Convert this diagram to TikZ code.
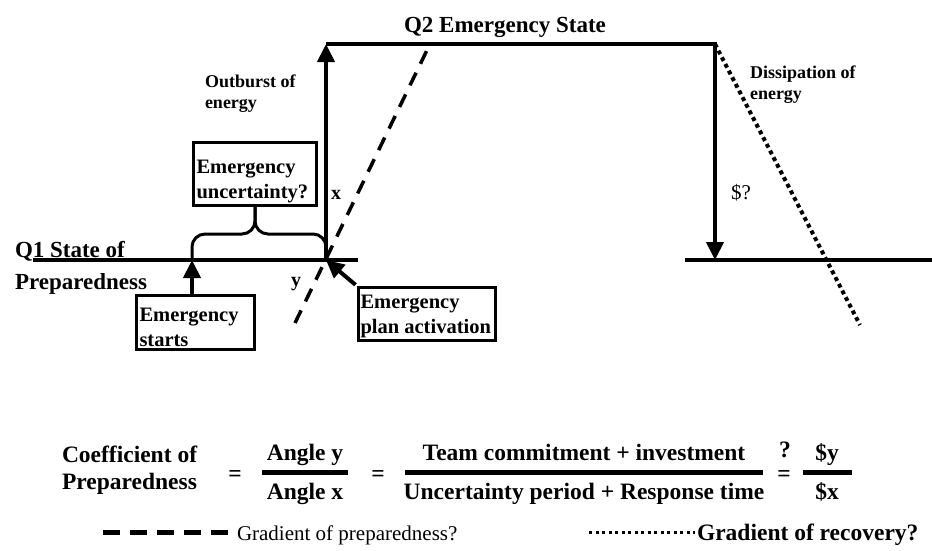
\documentclass[tikz,border=0pt]{standalone}
\usepackage{fontspec}
\setmainfont{Liberation Serif}
\usepackage{tikz}
\usetikzlibrary{arrows.meta,positioning}

\begin{document}
\begin{tikzpicture}[x=1pt, y=-1pt, line width=4pt, >={Triangle[length=18pt,width=17pt]},
                    boxx/.style={rectangle, draw=black, line width=3pt, align=flush left, inner sep=3pt, font=\fontsize{20.5}{25}\selectfont\bfseries},
                    notee/.style={align=left, inner sep=0pt, font=\fontsize{18}{21}\selectfont\bfseries},
                    headd/.style={align=left, inner sep=0pt, font=\fontsize{23}{32}\selectfont\bfseries},
                    eqq/.style={inner sep=0pt, font=\fontsize{23.5}{27}\selectfont\bfseries},
                    barr/.style={line width=5pt},
                    dashh/.style={line width=3.5pt, dash pattern=on 14pt off 10pt},
                    dott/.style={line width=4pt, dash pattern=on 4pt off 3.5pt}]
        \useasboundingbox (0,0) rectangle (932,550);

        % levels
        \coordinate (q1left) at (33,260);
        \coordinate (q1start) at (192,260);
        \coordinate (cross) at (326,260);
        \coordinate (q1end) at (358,260);
        \coordinate (q2left) at (326,44);
        \coordinate (q2right) at (715,44);
        \coordinate (q3foot) at (715,260);
        \coordinate (q3left) at (685,260);
        \coordinate (q3right) at (932,260);
        \coordinate (preplow) at (295,323);
        \coordinate (prephigh) at (430,44);
        \coordinate (reclow) at (860,325);
        \coordinate (bracemid) at (255,234);

        \node (uncbox) [boxx, text width=117pt] at (255,174) {\rule{0pt}{27.5pt}Emergency\\uncertainty?};
        \node (startbox) [boxx, text width=112pt] at (195.5,322.5) {\rule{0pt}{23pt}Emergency\\starts};
        \node (planbox) [boxx, text width=133pt, inner xsep=2pt] at (427,314) {\rule{0pt}{17.5pt}Emergency\\plan activation};

        \node (q1lbl) [headd, anchor=north west] at (13,239) {Q1 State of\\Preparedness};
        \node (q2lbl) [headd, anchor=base] at (505,32) {Q2 Emergency State};
        \node (burst) [notee, anchor=north west] at (203,73) {Outburst of\\energy};
        \node (dissip) [notee, anchor=north west] at (748,64) {Dissipation of\\energy};
        \node (cost) [inner sep=0pt, font=\fontsize{21}{21}\selectfont] at (741,193) {\$?};
        \node (xlbl) [inner sep=0pt, font=\fontsize{20}{20}\selectfont\bfseries] at (336,195) {x};
        \node (ylbl) [inner sep=0pt, anchor=base, font=\fontsize{20}{20}\selectfont\bfseries] at (296,286) {y};

        \draw (q1left) -- (q1end);
        \draw (q3left) -- (q3right);
        \draw[->] (cross) -- (q2left);
        \draw[->] (q2left) -- (q2right) -- (q3foot);
        \draw[dashh] (preplow) -- (prephigh);
        \draw[dott] (q2right) -- (reclow);

        % brace over the uncertainty period
        \draw[line width=3pt, rounded corners=13pt] (q1start) |- (bracemid) -- (uncbox.south);
        \draw[line width=3pt, rounded corners=13pt] (cross) |- (bracemid) -- (uncbox.south);

        \draw[->] (startbox.north -| q1start) -- (q1start);
        \draw[->, shorten <=2pt] (planbox.north west) -- (cross);

        % coefficient
        \node (coeff) [eqq, align=left, anchor=north west] at (60,444) {Coefficient of\\Preparedness};
        \node (eqa) [eqq, anchor=base] at (235,481) {=};
        \node (angy) [eqq, anchor=base] at (305,460) {Angle y};
        \node (angx) [eqq, anchor=base] at (305,499) {Angle x};
        \draw[barr] (262,472) -- (348,472);
        \node (eqb) [eqq, anchor=base] at (378,481) {=};
        \node (numer) [eqq, anchor=base] at (584,460) {Team commitment + investment};
        \node (denom) [eqq, anchor=base] at (584,499) {Uncertainty period + Response time};
        \draw[barr] (405,472) -- (763,472);
        \node (qmark) [eqq, anchor=base] at (785,457) {?};
        \node (eqc) [eqq, anchor=base] at (784,481) {=};
        \node (costy) [eqq, anchor=base] at (827,460) {\$y};
        \node (costx) [eqq, anchor=base] at (827,499) {\$x};
        \draw[barr] (803,472) -- (852,472);

        % key
        \node (prepkey) [anchor=base west, inner sep=0pt, font=\fontsize{21}{21}\selectfont] at (235,540) {Gradient of preparedness?};
        \node (reckey) [eqq, anchor=base west] at (695,540) {Gradient of recovery?};
        \draw[dashh, line width=5pt, dash pattern=on 17pt off 10pt] (103,532) -- (prepkey.west |- 0,532);
        \draw[dott, line width=3pt, dash pattern=on 3pt off 3.5pt] (589,532) -- (reckey.west |- 0,532);
\end{tikzpicture}
\end{document}
